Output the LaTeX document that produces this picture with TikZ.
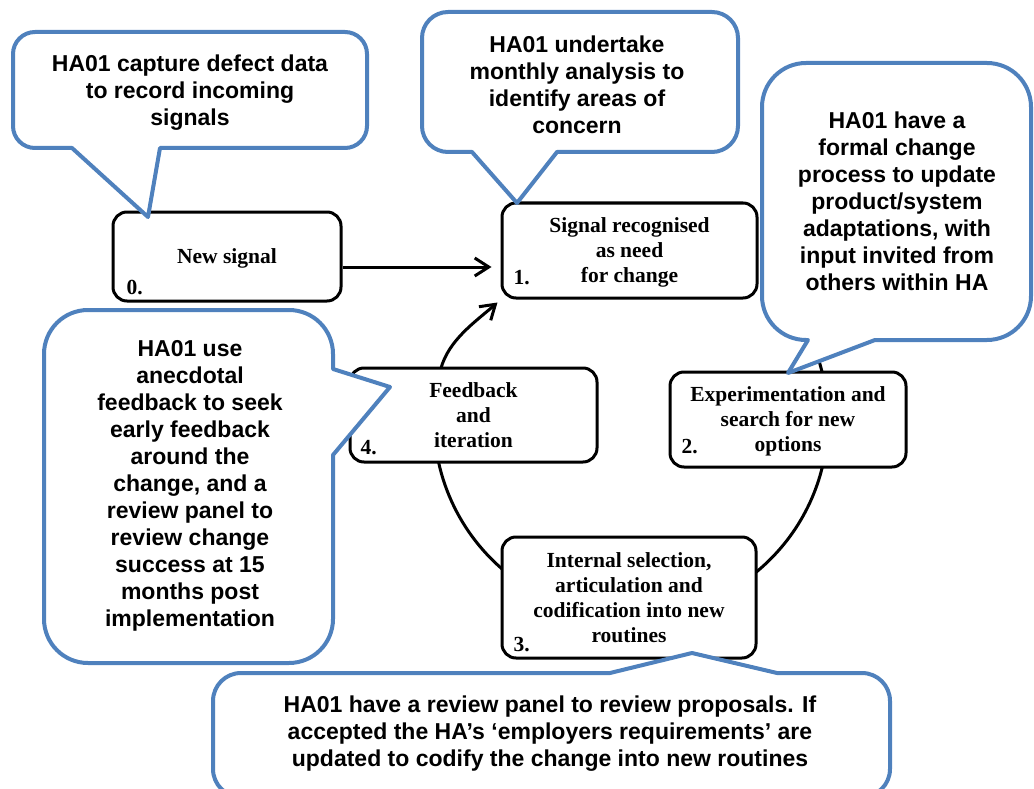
\documentclass[tikz,border=0pt]{standalone}
\usepackage{fontspec}
\setmainfont{Liberation Serif}
\newfontfamily\notefont{Liberation Sans}
\usetikzlibrary{arrows.meta,backgrounds}
\definecolor{noteblue}{RGB}{79,129,189}
% drop the depth of a last line so the box text sits on its baseline grid
\newcommand\flatline[1]{\raisebox{0pt}[\height][0pt]{#1}}

\begin{document}
\begin{tikzpicture}[x=1pt,y=-1pt,
  stepbox/.style={draw, line width=3pt, rounded corners=14pt, fill=white,
    align=center, inner sep=2pt,
    font=\fontsize{21.5}{25}\selectfont\bfseries},
  steptag/.style={anchor=base west, inner sep=0pt,
    font=\fontsize{21.5}{25}\selectfont\bfseries},
  bubble/.style={draw=noteblue, line width=4pt, fill=white, line join=round},
  notetext/.style={anchor=north, inner sep=0pt, align=center,
    font=\notefont\fontsize{23}{27}\selectfont\bfseries},
  flow/.style={line width=3pt, -{Straight Barb[length=14pt,width=18pt]}},
  ringline/.style={line width=3pt}]

\useasboundingbox (0,0) rectangle (1034,789);

% process steps
\node[stepbox, minimum width=228pt, minimum height=89pt] (b0) at (227,256.5)
  {\flatline{New signal}};
\node[stepbox, minimum width=255pt, minimum height=95pt] (b1) at (629.5,250.5)
  {Signal recognised\\as need\\\flatline{for change}};
\node[stepbox, minimum width=236pt, minimum height=95pt] (b2) at (788,419.5)
  {Experimentation and\\search for new\\\flatline{options}};
\node[stepbox, minimum width=254pt, minimum height=121pt] (b3) at (629,597.5)
  {Internal selection,\\articulation and\\codification into new\\routines};
\node[stepbox, minimum width=247pt, minimum height=94pt] (b4) at (473.5,415)
  {Feedback\\and\\iteration};

% step numbers
\node[steptag] (n0) at ([shift={(15,-8)}]b0.south west) {0.};
\node[steptag] (n1) at ([shift={(13,-15)}]b1.south west) {1.};
\node[steptag] (n2) at ([shift={(13,-15)}]b2.south west) {2.};
\node[steptag] (n3) at ([shift={(13,-8)}]b3.south west) {3.};
\node[steptag] (n4) at ([shift={(12,-9)}]b4.south west) {4.};

% the cycle runs behind the steps
\coordinate (ring) at (631,420);
\coordinate (fbstart) at ([shift={(195:197)}]ring);
\coordinate (sigout) at ([yshift=-10.5pt]b0.east);
\begin{scope}[on background layer]
  \draw[ringline] ([shift={(-45:197)}]ring)
    arc[start angle=-45, end angle=190, radius=197];
  \draw[flow] (fbstart) .. controls +(8,-29) and +(-23,20)
    .. ([shift={(-3,3)}]b1.south west);
\end{scope}
\draw[flow, shorten >=9pt] (sigout) -- (sigout -| b1.west);

% speech bubbles: a corner is rounded when the segment reaching it is
\draw[bubble] (190,32) [rounded corners=22pt] -- (367,32) -- (367,148)
  [sharp corners] -- (160,148) -- (148,217) -- (72,148)
  [rounded corners=22pt] -- (13,148) -- (13,32) -- cycle;
\draw[bubble] (580,12) [rounded corners=26pt] -- (738,12) -- (738,152)
  [sharp corners] -- (557,152) -- (517,203) -- (472,152)
  [rounded corners=26pt] -- (422,152) -- (422,12) -- cycle;
\draw[bubble] (900,63) [rounded corners=44pt] -- (1031,63) -- (1031,340)
  [sharp corners] -- (875,340) -- (788,373) -- (808,340)
  [rounded corners=44pt] -- (762,340) -- (762,63) -- cycle;
\draw[bubble] (190,310) [rounded corners=44pt] -- (333,310)
  [sharp corners] -- (333,369) -- (390,387) -- (333,455)
  [rounded corners=44pt] -- (333,663) -- (44,663) -- (44,310) -- cycle;
\draw[bubble] (213,730) [rounded corners=28pt] -- (213,673)
  [sharp corners] -- (610,673) -- (692,653) -- (777,673)
  [rounded corners=28pt] -- (890,673) -- (890,797) -- (213,797) -- cycle;

% bubble texts
\node[notetext] (note0) at (190,54.3)
  {HA01 capture defect data\\to record incoming\\signals};
\node[notetext] (note1) at (577,35.3)
  {HA01 undertake\\monthly analysis to\\identify areas of\\concern};
\node[notetext] (note2) at (897,111.3)
  {HA01 have a\\formal change\\process to update\\product/system\\adaptations, with\\input invited from\\others within HA};
\node[notetext] (note4) at (190,340.3)
  {HA01 use\\anecdotal\\feedback to seek\\early feedback\\around the\\change, and a\\review panel to\\review change\\success at 15\\months post\\implementation};
\node[notetext] (note3) at (550,695.3)
  {HA01 have a review panel to review proposals. If\\accepted the HA’s ‘employers requirements’ are\\updated to codify the change into new routines};
\end{tikzpicture}
\end{document}
